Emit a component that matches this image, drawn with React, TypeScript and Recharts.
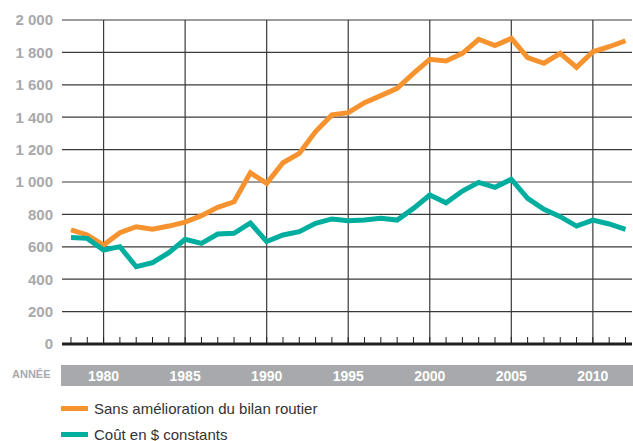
import React from 'react';
import { LineChart, Line, XAxis, YAxis, CartesianGrid, ReferenceLine } from 'recharts';

const years = [1978, 1979, 1980, 1981, 1982, 1983, 1984, 1985, 1986, 1987, 1988, 1989, 1990, 1991, 1992, 1993, 1994, 1995, 1996, 1997, 1998, 1999, 2000, 2001, 2002, 2003, 2004, 2005, 2006, 2007, 2008, 2009, 2010, 2011, 2012];
const sansAmelioration = [704, 673, 611, 687, 724, 708, 728, 752, 792, 844, 878, 1057, 992, 1119, 1177, 1311, 1414, 1428, 1490, 1533, 1578, 1671, 1757, 1747, 1794, 1881, 1842, 1887, 1768, 1733, 1794, 1708, 1804, 1835, 1872];
const coutConstant = [658, 652, 580, 601, 477, 502, 564, 646, 621, 679, 683, 747, 632, 673, 693, 745, 772, 761, 765, 776, 765, 837, 920, 872, 944, 998, 967, 1017, 899, 831, 786, 728, 765, 741, 708];
const yTicks = [0, 200, 400, 600, 800, 1000, 1200, 1400, 1600, 1800, 2000];
const majorYears = [1980, 1985, 1990, 1995, 2000, 2005, 2010];
const seriesNames = ['Sans amélioration du bilan routier', 'Coût en $ constants'];

const ORANGE = '#F7932F';
const TEAL = '#00AE9F';
const GRID = '#3a3a3a';
const LABEL_GRAY = '#A7A9AC';
const FONT = '"Liberation Sans", Arial, sans-serif';

const data = years.map((y, i) => ({ year: y, sans: sansAmelioration[i], cout: coutConstant[i] }));

const fmt = (v: number) => (v >= 1000 ? `${Math.floor(v / 1000)} ${String(v % 1000).padStart(3, '0')}` : String(v));

const XTick = (props: any) => {
  const { x, payload } = props;
  if (payload.value % 5 !== 0) return null;
  return (
    <text x={x} y={375.5} textAnchor="middle" dominantBaseline="central" fill="#ffffff" fontWeight="bold" fontSize={14} fontFamily={FONT}>
      {payload.value}
    </text>
  );
};

export default function App() {
  const colors = [ORANGE, TEAL];
  return (
    <div style={{ position: 'absolute', left: 0, top: 0, width: 633, height: 441, background: '#fff' }}>
      <div style={{ position: 'absolute', left: 61, top: 365, width: 572, height: 21, background: LABEL_GRAY }} />
      <div style={{ position: 'absolute', left: 12, top: 367, fontFamily: FONT, fontSize: 11, fontWeight: 'bold', color: LABEL_GRAY, lineHeight: '14px' }}>ANNÉE</div>
      <div style={{ position: 'absolute', left: 0, top: 0 }}>
        <LineChart width={633} height={441} data={data} margin={{ top: 20, right: 1, bottom: 67, left: 0 }}>
          <CartesianGrid vertical={false} stroke={GRID} strokeWidth={1.2} />
          <XAxis
            dataKey="year"
            type="number"
            domain={[1977.45, 2012.4]}
            ticks={years}
            interval={0}
            tick={<XTick />}
            tickSize={-7}
            height={30}
            tickLine={{ stroke: '#231f20', strokeWidth: 1 }}
            axisLine={{ stroke: '#231f20', strokeWidth: 3 }}
            allowDataOverflow
          />
          <YAxis
            width={62}
            domain={[0, 2000]}
            ticks={yTicks}
            interval={0}
            tickFormatter={fmt}
            axisLine={false}
            tickLine={false}
            tickSize={0}
            tickMargin={9}
            tick={{ fill: LABEL_GRAY, fontSize: 15, fontWeight: 'bold', fontFamily: FONT }}
          />
          {majorYears.map((y) => (
            <ReferenceLine key={y} x={y} stroke={GRID} strokeWidth={1.2} />
          ))}
          <Line dataKey="sans" name={seriesNames[0]} stroke={ORANGE} strokeWidth={5} dot={false} type="linear" isAnimationActive={false} strokeLinejoin="miter" />
          <Line dataKey="cout" name={seriesNames[1]} stroke={TEAL} strokeWidth={5} dot={false} type="linear" isAnimationActive={false} strokeLinejoin="miter" />
        </LineChart>
      </div>
      <div style={{ position: 'absolute', left: 61, top: 395, fontFamily: FONT }}>
        {seriesNames.map((n, i) => (
          <div key={n} style={{ display: 'flex', alignItems: 'center', height: 26 }}>
            <div style={{ width: 27, height: 5, background: colors[i], marginRight: 6 }} />
            <span style={{ fontSize: 15, color: '#333333' }}>{n}</span>
          </div>
        ))}
      </div>
    </div>
  );
}
